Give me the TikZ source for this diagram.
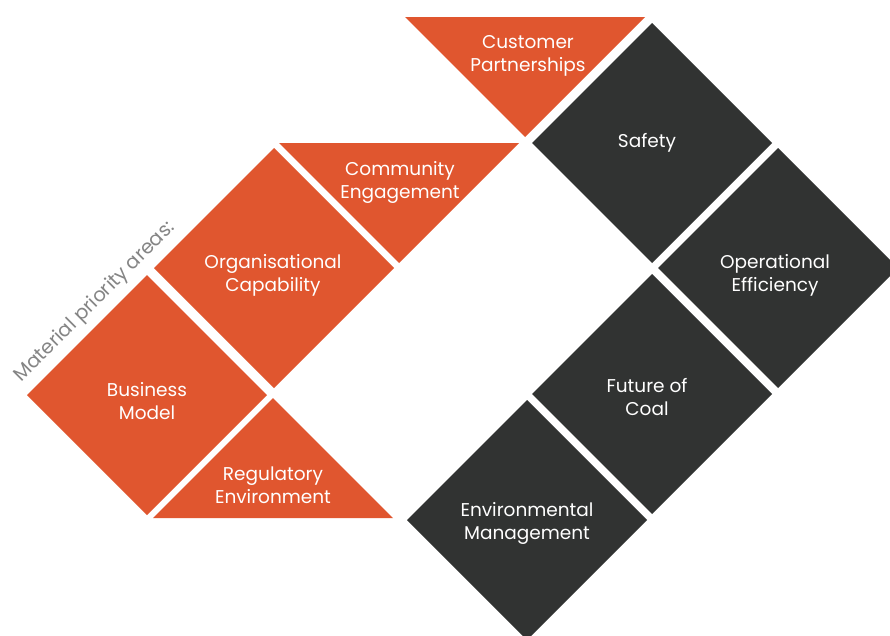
\documentclass[tikz,border=0pt]{standalone}
\usepackage{fontspec}
\setmainfont{Poppins}
\definecolor{tileorange}{HTML}{E0562F}
\definecolor{tiledark}{HTML}{313332}
\definecolor{captiongray}{HTML}{858585}
\tikzset{
  orangetile/.style={fill=tileorange},
  darktile/.style={fill=tiledark},
  tilelabel/.style={align=center, text=white, font=\fontsize{18.5}{23}\selectfont, inner sep=0pt}
}
\begin{document}
\begin{tikzpicture}[x=1pt, y=-1pt]
  \clip (0,0) rectangle (890,635);
  \fill[white] (0,0) rectangle (890,635);

  % orange side
  \foreach \cx/\cy in {147/395, 274/268}
    \fill[orangetile] (\cx-120,\cy) -- (\cx,\cy-120) -- (\cx+120,\cy) -- (\cx,\cy+120) -- cycle;
  \fill[orangetile] (279,143) -- (519,143) -- (399,263) -- cycle;
  \fill[orangetile] (405,17) -- (645,17) -- (525,137) -- cycle;
  \fill[orangetile] (153,518) -- (273,398) -- (393,518) -- cycle;

  % dark side
  \foreach \cx/\cy in {652/143, 778/268, 652/394, 527/520}
    \fill[darktile] (\cx-120,\cy) -- (\cx,\cy-120) -- (\cx+120,\cy) -- (\cx,\cy+120) -- cycle;

  \node[tilelabel] (business) at (147,401) {Business\\Model};
  \node[tilelabel] (organisation) at (273,275) {Organisational\\Capability};
  \node[tilelabel] (community) at (400,182) {Community\\Engagement};
  \node[tilelabel] (customer) at (528,56) {Customer\\Partnerships};
  \node[tilelabel] (regulatory) at (273,485) {Regulatory\\Environment};
  \node[tilelabel] (safety) at (647,143) {Safety};
  \node[tilelabel] (efficiency) at (775,275) {Operational\\Efficiency};
  \node[tilelabel] (coal) at (647,397) {Future of\\Coal};
  \node[tilelabel] (environment) at (527,523) {Environmental\\Management};

  \node[rotate=45, text=captiongray, font=\fontsize{19.5}{22}\selectfont] (caption) at (95,302) {Material priority areas:};
\end{tikzpicture}
\end{document}
